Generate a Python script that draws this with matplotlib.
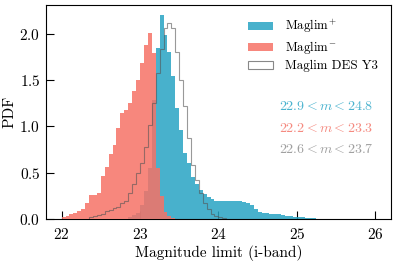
import numpy as np
import matplotlib
matplotlib.use("Agg")
import matplotlib.pyplot as plt
from matplotlib.patches import Patch

plt.rcParams.update({
    'font.family': 'serif',
    'font.serif': ['cmr10', 'DejaVu Serif'],
    'mathtext.fontset': 'cm',
    'axes.formatter.use_mathtext': True,
    'axes.unicode_minus': False,
    'font.size': 10,
})

# histogram edges (0.05 mag bins)
edges_red = np.round(np.arange(22.00, 23.451, 0.05), 2)
edges_blue = np.round(np.arange(22.85, 25.251, 0.05), 2)
edges_grey = np.round(np.arange(22.35, 24.101, 0.05), 2)

pdf_red = [0.02, 0.03, 0.05, 0.07, 0.09, 0.11, 0.17, 0.26, 0.26, 0.28,
           0.47, 0.56, 0.70, 0.80, 0.98, 1.14, 1.18, 1.25, 1.38, 1.50,
           1.68, 1.88, 2.01, 1.79, 0.55, 0.25, 0.08, 0.03, 0.01]

pdf_blue = [0.02, 0.04, 0.07, 0.15, 0.30, 0.55, 1.29, 1.85, 2.20, 1.99,
            1.80, 1.54, 1.20, 0.96, 0.71, 0.60, 0.45, 0.38, 0.31, 0.27,
            0.24, 0.22, 0.20, 0.19, 0.19, 0.20, 0.20, 0.20, 0.19, 0.18,
            0.17, 0.15, 0.11, 0.08, 0.07, 0.07, 0.06, 0.05, 0.05, 0.04,
            0.03, 0.03, 0.02, 0.02, 0.02, 0.01, 0.01, 0.01]

pdf_grey = [0.02, 0.03, 0.04, 0.05, 0.09, 0.10, 0.12, 0.13, 0.17, 0.20,
            0.28, 0.38, 0.50, 0.60, 0.78, 1.02, 1.25, 1.58, 1.84, 2.06,
            2.12, 2.06, 1.80, 1.50, 1.22, 0.87, 0.58, 0.42, 0.28, 0.17,
            0.11, 0.06, 0.03, 0.02, 0.01]

labels = [r'Maglim$^{+}$', r'Maglim$^{-}$', 'Maglim DES Y3']
ranges = [r'$22.9 < m < 24.8$', r'$22.2 < m < 23.3$', r'$22.6 < m < 23.7$']

c_blue = '#28a4c3'
c_red = '#f67266'
c_grey = '#555555'

fig = plt.figure(figsize=(3.96, 2.63), dpi=100)
ax = fig.add_axes([0.116, 0.167, 0.871, 0.814])

ax.stairs(pdf_blue, edges_blue, fill=True, color=c_blue, alpha=0.85, zorder=2)
ax.stairs(pdf_red, edges_red, fill=True, color=c_red, alpha=0.85, zorder=3)
ax.stairs(pdf_grey, edges_grey, fill=False, color=c_grey, alpha=0.6, lw=0.8, zorder=4)

handles = [Patch(facecolor=c_blue, alpha=0.85, edgecolor='none'),
           Patch(facecolor=c_red, alpha=0.85, edgecolor='none'),
           Patch(facecolor='white', edgecolor='#888888', lw=0.8)]
ax.legend(handles, labels, loc='upper right', frameon=False, fontsize=9.3,
          handlelength=2.0, handleheight=0.6, handletextpad=0.9,
          borderaxespad=0.6, labelspacing=0.3)

txt_colors = ['#4ab3cf', '#f58a80', '#a0a0a0']
for i, (s, c) in enumerate(zip(ranges, txt_colors)):
    ax.text(0.95, 0.525 - i * 0.1, s, color=c, fontsize=10,
            ha='right', va='center', transform=ax.transAxes)

ax.set_xlim(21.8, 26.2)
ax.set_ylim(0, 2.31)
ax.set_xticks([22, 23, 24, 25, 26])
ax.set_yticks([0.0, 0.5, 1.0, 1.5, 2.0])
ax.tick_params(direction='in', length=6, width=0.8, labelsize=11)
ax.tick_params(axis='x', pad=6)
ax.tick_params(axis='y', pad=4)
ax.set_xlabel('Magnitude limit (i-band)', fontsize=11, labelpad=2)
ax.set_ylabel('PDF', fontsize=11, labelpad=2)

fig.savefig('out.png', dpi=100)
